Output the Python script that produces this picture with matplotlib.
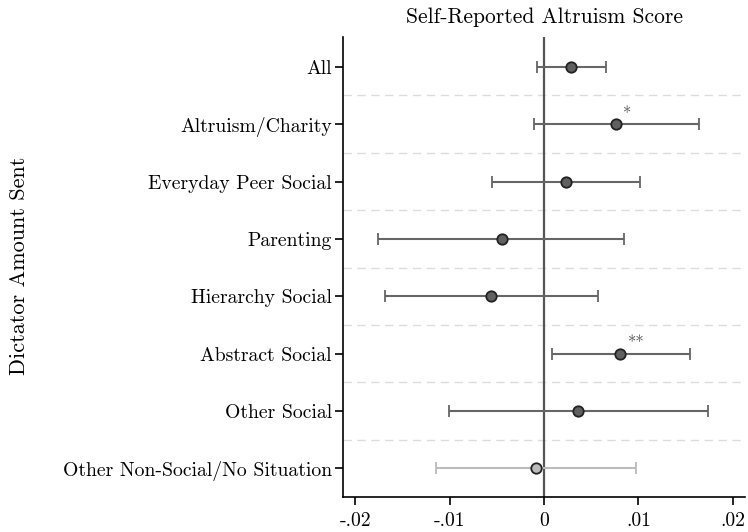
import matplotlib
matplotlib.use("Agg")
import matplotlib.pyplot as plt
import numpy as np

plt.rcParams['font.family'] = 'serif'
plt.rcParams['font.serif'] = ['cmr10', 'DejaVu Serif']
plt.rcParams['mathtext.fontset'] = 'cm'
plt.rcParams['axes.formatter.use_mathtext'] = True

# dados
categorias = ["All", "Altruism/Charity", "Everyday Peer Social", "Parenting",
              "Hierarchy Social", "Abstract Social", "Other Social",
              "Other Non-Social/No Situation"]
coef = [0.0029, 0.0076, 0.0023, -0.0045, -0.0056, 0.0081, 0.0036, -0.0009]
ci_lo = [-0.0007, -0.0011, -0.0055, -0.0176, -0.0169, 0.0008, -0.0101, -0.0114]
ci_hi = [0.0066, 0.0164, 0.0102, 0.0085, 0.0057, 0.0155, 0.0174, 0.0097]
estrelas = ["", "*", "", "", "", "**", "", ""]
xticks = [-0.02, -0.01, 0, 0.01, 0.02]
xticklabels = ["-.02", "-.01", "0", ".01", ".02"]

fig = plt.figure(figsize=(7.48, 5.32), dpi=100)
ax = fig.add_axes([0.4586, 0.0658, 0.5374, 0.8647])

y = np.arange(len(categorias))
ax.axvline(0, color='#555555', lw=1.6, zorder=1)

for i in range(len(categorias) - 1):
    ax.axhline(i + 0.5, color='#dcdcdc', lw=1.0, ls=(0, (6, 4)), zorder=0)

for i in range(len(categorias)):
    ultimo = (i == len(categorias) - 1)
    cor = '#bbbbbb' if ultimo else '#666666'
    fill = '#bbbbbb' if ultimo else '#606060'
    lo = coef[i] - ci_lo[i]
    hi = ci_hi[i] - coef[i]
    ax.errorbar(coef[i], y[i], xerr=[[lo], [hi]], fmt='o', color=cor,
                ecolor=cor, elinewidth=1.5, capsize=4, capthick=1.5,
                markersize=7.5, markerfacecolor=fill, markeredgecolor='#222222',
                markeredgewidth=1.3, zorder=3)
    if estrelas[i]:
        ax.text(coef[i] + 0.0008, y[i] - 0.04, estrelas[i], color='#555555',
                fontsize=12, ha='left', va='bottom')

ax.set_ylim(len(categorias) - 0.5, -0.52)
ax.set_xlim(-0.0213, 0.0213)
ax.set_yticks(y)
ax.set_yticklabels(categorias, fontsize=14.2)
ax.set_xticks(xticks)
ax.set_xticklabels(xticklabels, fontsize=14.2)
ax.tick_params(axis='y', length=6, width=1.2, pad=2)
ax.tick_params(axis='x', length=6, width=1.2, pad=5)

ax.spines['top'].set_visible(False)
ax.spines['right'].set_visible(False)
ax.spines['left'].set_linewidth(1.2)
ax.spines['bottom'].set_linewidth(1.2)

ax.set_title('Self-Reported Altruism Score', fontsize=15.5, pad=10)
fig.text(0.026, 0.5, 'Dictator Amount Sent', rotation=90, fontsize=16,
         ha='center', va='center')

plt.savefig('out.png', dpi=100)
